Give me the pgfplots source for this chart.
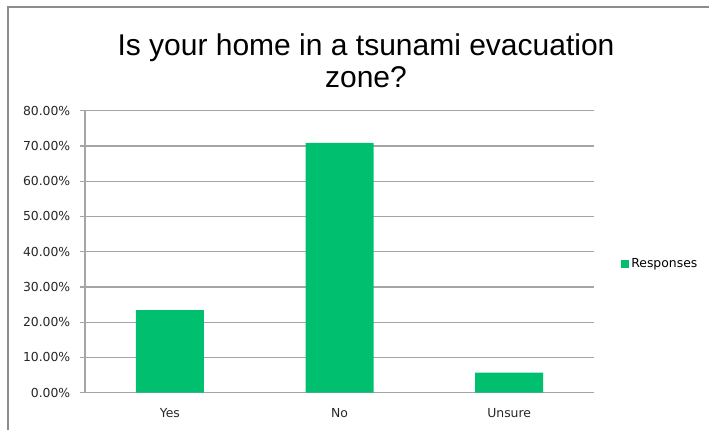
\documentclass[border=0pt]{standalone}
\usepackage{pgfplots}
\pgfplotsset{compat=1.18}
\usepackage{fontspec}
\setmainfont{DejaVu Sans}
\newfontfamily\titlefont{Liberation Sans}
\definecolor{bargreen}{RGB}{0,191,111}
\definecolor{gridgray}{RGB}{165,165,165}
\definecolor{framegray}{RGB}{140,140,140}
\begin{document}
\begin{tikzpicture}[x=0.75pt,y=0.75pt]
\path[use as bounding box] (0,0) rectangle (709,430);
\draw[framegray,line width=1.2pt] (8,0) -- (8,423) -- (709,423);
\node[font=\titlefont\fontsize{22.5}{24}\selectfont,align=center,text=black] at (366,369) {Is your home in a tsunami evacuation\\zone?};
\begin{axis}[
  at={(63.75pt,27.98pt)}, anchor=south west,
  scale only axis,
  width=381.75pt, height=211.5pt,
  xmin=-0.5, xmax=2.5, ymin=0, ymax=80,
  ybar, bar width=51pt,
  xtick={0,1,2}, xticklabels={Yes,No,Unsure},
  extra x ticks={0.5,1.5,2.5}, extra x tick labels={},
  extra x tick style={major tick length=5pt, tick style={gridgray, line width=0.9pt}, xticklabel=\empty},
  ytick={0,10,20,30,40,50,60,70,80},
  yticklabels={0.00\%,10.00\%,20.00\%,30.00\%,40.00\%,50.00\%,60.00\%,70.00\%,80.00\%},
  ymajorgrids, grid style={gridgray, line width=0.9pt},
  axis x line*=bottom, axis y line*=left,
  axis line style={gridgray, line width=0.9pt},
  x axis line style={-}, y axis line style={-},
  xtick style={draw=none},
  ytick style={gridgray, line width=0.9pt},
  tick align=outside, major tick length=4pt,
  ticklabel style={font=\fontsize{9.3}{10}\selectfont, text=black!85},
  yticklabel style={xshift=-3.5pt},
  xticklabel style={yshift=-4pt},
  /pgf/number format/assume math mode=true,
  legend style={at={(1.045,0.456)}, anchor=west, draw=none, fill=none, font=\fontsize{9.3}{10}\selectfont},
]
\addplot[fill=bargreen, draw=none,
  legend image code/.code={\fill[bargreen] (0pt,-2.8pt) rectangle (5.6pt,2.8pt);}]
  coordinates {(0,23.46) (1,70.9) (2,5.67)};
\addlegendentry{Responses}
\end{axis}
\end{tikzpicture}
\end{document}
